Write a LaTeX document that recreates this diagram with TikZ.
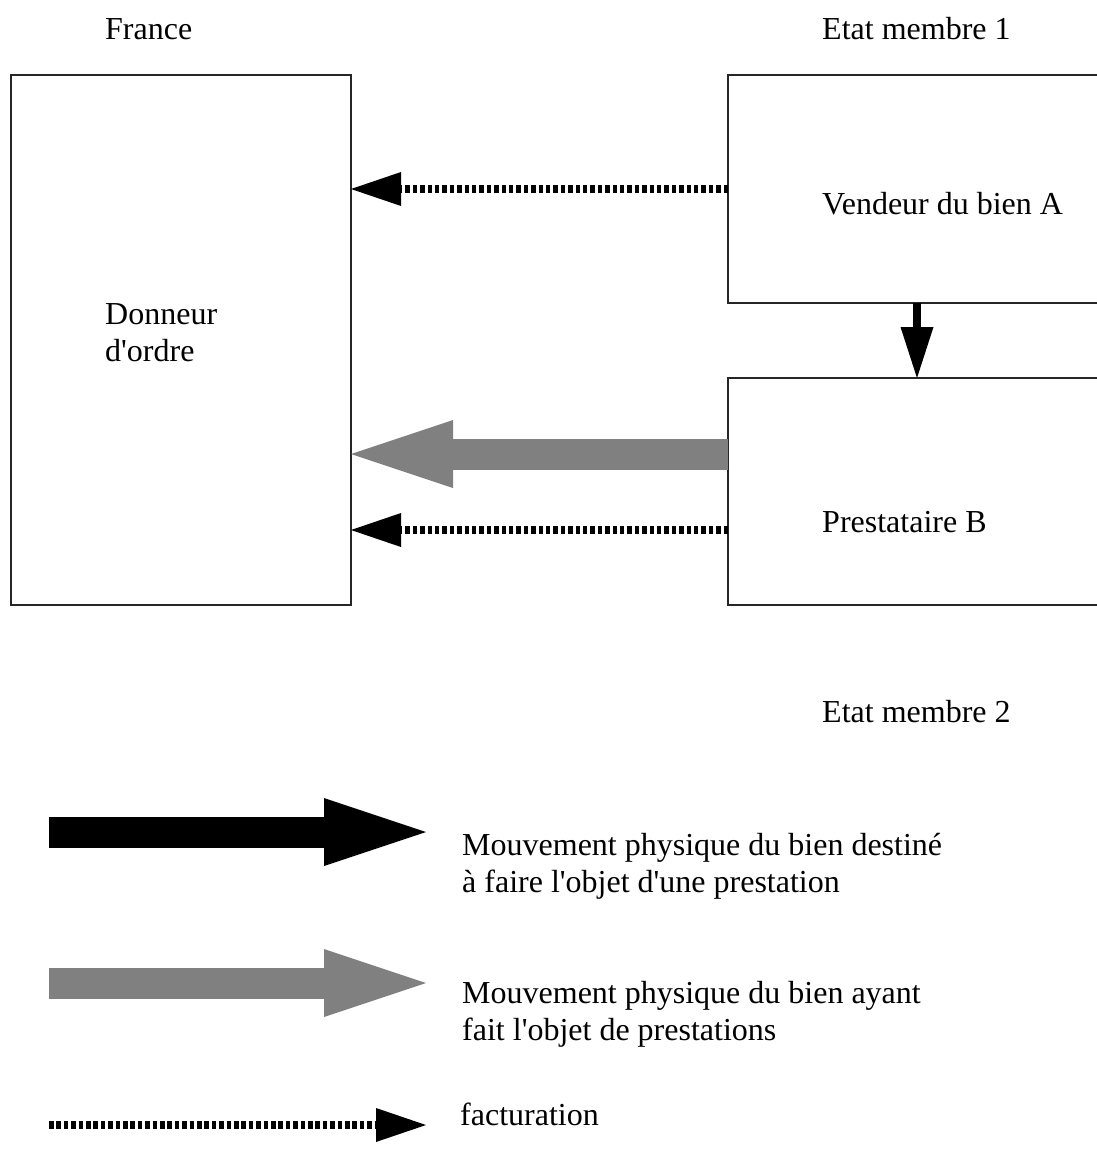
\documentclass[tikz,border=0pt]{standalone}
\usepackage{fontspec}
\setmainfont{Liberation Serif}[Ligatures=TeXOff]
\usetikzlibrary{arrows.meta}

\begin{document}
\begin{tikzpicture}[x=1pt, y=-1pt,
    box/.style = {draw=black!85, line width=1.2pt, rectangle, inner sep=0pt, outer sep=0pt},
    txt/.style = {anchor=base west, inner sep=0pt, font=\fontsize{32}{36.8}\selectfont},
    fact/.style = {line width=8pt, dash pattern=on 4.5pt off 2.9pt, -{Triangle[length=50pt, width=34pt, line width=0pt]}},
    move/.style = {line width=31pt, -{Triangle[length=102pt, width=68pt, line width=0pt]}},
    down/.style = {line width=8pt, -{Triangle[length=51pt, width=33pt, line width=0pt]}}]

    \useasboundingbox (0,0) rectangle (1096,1149);

    % boxes
    \node[box, minimum width=340pt, minimum height=530pt] (don) at (181,340) {};
    \node[box, minimum width=422pt, minimum height=228pt] (vend) at (939,189) {};
    \node[box, minimum width=422pt, minimum height=227pt] (prest) at (939,491.5) {};

    % labels
    \node[txt] (fr) at (105,39) {France};
    \node[txt] (em1) at (822,39) {Etat membre 1};
    \node[txt] (em2) at (822,722) {Etat membre 2};
    \node[txt] (vtxt) at (822,214) {Vendeur du bien A};
    \node[txt] (ptxt) at (822,532) {Prestataire B};
    \node[txt] (dtxt1) at (105,324) {Donneur};
    \node[txt] (dtxt2) at (105,361) {d'ordre};

    % flows
    \coordinate (g1) at ([yshift=37.5pt]prest.west);
    \coordinate (f2) at ([yshift=-38.5pt]prest.west);
    \draw[fact] (vend.west) -- (don.east |- vend.west);
    \draw[move, gray] (g1) -- (don.east |- g1);
    \draw[fact] (f2) -- (don.east |- f2);
    \draw[down] ([xshift=-22pt]vend.south) -- ([xshift=-22pt]prest.north);

    % legend
    \coordinate (k1a) at (49,832);
    \coordinate (k1b) at (426,832);
    \coordinate (k2a) at (49,983);
    \coordinate (k2b) at (426,983);
    \coordinate (k3a) at (49,1125);
    \coordinate (k3b) at (426,1125);
    \draw[move, black] (k1a) -- (k1b);
    \draw[move, gray] (k2a) -- (k2b);
    \draw[fact] (k3a) -- (k3b);
    \node[txt] (l1a) at (462,855) {Mouvement physique du bien destiné};
    \node[txt] (l1b) at (462,892) {à faire l'objet d'une prestation};
    \node[txt] (l2a) at (462,1003) {Mouvement physique du bien ayant};
    \node[txt] (l2b) at (462,1040) {fait l'objet de prestations};
    \node[txt] (l3) at (460,1125) {facturation};
\end{tikzpicture}
\end{document}
